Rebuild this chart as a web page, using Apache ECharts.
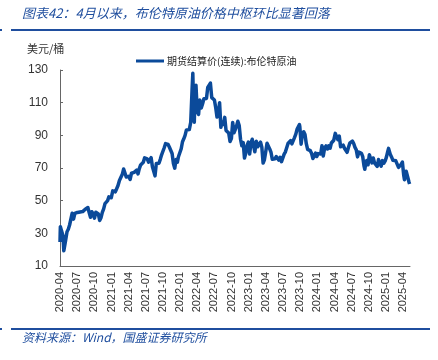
<!DOCTYPE html>
<html><head><meta charset="utf-8">
<script src="https://cdn.jsdelivr.net/npm/echarts@6/dist/echarts.min.js"></script>
<style>html,body{margin:0;padding:0;background:#fff}#c{width:438px;height:360px}</style>
</head><body><div id="c"></div>
<script>
var dates = [
"2020-04-01","2020-04-02","2020-04-03","2020-04-09","2020-04-14","2020-04-17","2020-04-21","2020-04-22","2020-04-24","2020-04-28","2020-04-30",
"2020-05-08","2020-05-15","2020-05-22","2020-05-29","2020-06-05","2020-06-12","2020-06-19","2020-06-26",
"2020-07-02","2020-07-10","2020-07-17","2020-07-24","2020-07-31","2020-08-07","2020-08-14","2020-08-21","2020-08-28",
"2020-09-04","2020-09-11","2020-09-18","2020-09-25","2020-10-02","2020-10-09","2020-10-16","2020-10-23","2020-10-30",
"2020-11-06","2020-11-13","2020-11-20","2020-11-27","2020-12-04","2020-12-11","2020-12-18","2020-12-24","2020-12-31",
"2021-01-08","2021-01-15","2021-01-22","2021-01-29","2021-02-05","2021-02-12","2021-02-19","2021-02-26",
"2021-03-05","2021-03-12","2021-03-19","2021-03-26","2021-04-01","2021-04-09","2021-04-16","2021-04-23","2021-04-30",
"2021-05-07","2021-05-14","2021-05-21","2021-05-28","2021-06-04","2021-06-11","2021-06-18","2021-06-25",
"2021-07-02","2021-07-09","2021-07-16","2021-07-23","2021-07-30","2021-08-06","2021-08-13","2021-08-20","2021-08-27",
"2021-09-03","2021-09-10","2021-09-17","2021-09-24","2021-10-01","2021-10-08","2021-10-15","2021-10-22","2021-10-29",
"2021-11-05","2021-11-12","2021-11-19","2021-11-26","2021-12-03","2021-12-10","2021-12-17","2021-12-23","2021-12-31",
"2022-01-07","2022-01-14","2022-01-21","2022-01-28","2022-02-04","2022-02-11","2022-02-18","2022-02-25",
"2022-03-04","2022-03-08","2022-03-11","2022-03-16","2022-03-18","2022-03-25","2022-04-01","2022-04-08","2022-04-14","2022-04-22","2022-04-29",
"2022-05-06","2022-05-13","2022-05-20","2022-05-27","2022-06-03","2022-06-10","2022-06-17","2022-06-24",
"2022-07-01","2022-07-08","2022-07-15","2022-07-22","2022-07-29","2022-08-05","2022-08-12","2022-08-19","2022-08-26",
"2022-09-02","2022-09-09","2022-09-16","2022-09-23","2022-09-30","2022-10-07","2022-10-14","2022-10-21","2022-10-28",
"2022-11-04","2022-11-11","2022-11-18","2022-11-25","2022-12-02","2022-12-09","2022-12-16","2022-12-23","2022-12-30",
"2023-01-06","2023-01-13","2023-01-20","2023-01-27","2023-02-03","2023-02-10","2023-02-17","2023-02-24",
"2023-03-03","2023-03-10","2023-03-17","2023-03-24","2023-03-31","2023-04-07","2023-04-14","2023-04-21","2023-04-28",
"2023-05-05","2023-05-12","2023-05-19","2023-05-26","2023-06-02","2023-06-09","2023-06-16","2023-06-23","2023-06-30",
"2023-07-07","2023-07-14","2023-07-21","2023-07-28","2023-08-04","2023-08-11","2023-08-18","2023-08-25",
"2023-09-01","2023-09-08","2023-09-15","2023-09-22","2023-09-27","2023-09-29","2023-10-06","2023-10-13","2023-10-20","2023-10-27",
"2023-11-03","2023-11-10","2023-11-17","2023-11-24","2023-12-01","2023-12-08","2023-12-15","2023-12-22","2023-12-29",
"2024-01-05","2024-01-12","2024-01-19","2024-01-26","2024-02-02","2024-02-09","2024-02-16","2024-02-23",
"2024-03-01","2024-03-08","2024-03-15","2024-03-22","2024-03-28","2024-04-05","2024-04-12","2024-04-19","2024-04-26",
"2024-05-03","2024-05-10","2024-05-17","2024-05-24","2024-05-31","2024-06-07","2024-06-14","2024-06-21","2024-06-28",
"2024-07-05","2024-07-12","2024-07-19","2024-07-26","2024-08-02","2024-08-09","2024-08-16","2024-08-23","2024-08-30",
"2024-09-06","2024-09-10","2024-09-13","2024-09-20","2024-09-27","2024-10-04","2024-10-11","2024-10-18","2024-10-25",
"2024-11-01","2024-11-08","2024-11-15","2024-11-22","2024-11-29","2024-12-06","2024-12-13","2024-12-20","2024-12-27","2024-12-31",
"2025-01-03","2025-01-10","2025-01-15","2025-01-17","2025-01-24","2025-01-31","2025-02-07","2025-02-14","2025-02-21","2025-02-28",
"2025-03-07","2025-03-14","2025-03-21","2025-03-28","2025-04-04","2025-04-08","2025-04-11","2025-04-17","2025-04-25","2025-05-02","2025-05-05"
];
var brent = [
24.7,29.9,34.1,31.5,29.6,28.1,19.3,20.4,21.4,20.5,25.3,
31.0,32.5,35.1,35.3,42.3,38.7,42.2,41.0,
42.8,43.2,43.1,43.3,43.3,44.4,44.8,44.4,45.8,
42.7,39.8,43.2,41.9,39.3,42.9,42.9,41.8,37.9,
39.5,42.8,45.0,48.2,49.3,50.0,52.3,51.3,51.8,
56.0,55.1,55.4,55.9,59.3,62.4,62.9,66.1,
69.4,69.2,64.5,64.6,64.9,63.0,66.8,66.1,67.3,
68.3,68.7,66.4,69.6,71.9,72.7,73.5,76.2,
76.2,75.6,73.6,74.1,76.3,70.7,70.6,65.2,72.7,
72.6,72.9,75.3,78.1,79.3,82.4,84.9,85.5,84.4,
82.7,82.2,78.9,72.7,69.9,75.2,73.5,76.9,77.8,
81.8,86.1,87.9,90.0,93.3,94.4,93.5,97.9,
118.1,128.0,112.7,98.0,107.9,120.7,104.4,102.8,111.7,106.7,109.3,
112.4,111.6,112.6,119.4,119.7,122.0,113.1,113.1,
111.6,107.0,101.2,103.2,110.0,94.9,98.2,96.7,101.0,
93.0,92.8,91.4,86.2,88.0,97.9,91.6,93.5,95.8,
98.6,96.0,87.6,83.6,85.6,76.1,79.0,83.9,85.9,
78.6,85.3,87.6,86.7,79.9,86.4,83.0,83.2,
85.8,82.8,73.0,75.0,79.8,85.1,86.3,81.7,79.5,
75.3,74.2,75.6,77.0,76.1,74.8,76.6,73.9,74.9,
78.5,79.9,81.1,85.0,86.2,86.8,84.8,84.5,
88.6,90.7,93.9,93.3,96.6,95.3,84.6,90.9,92.2,90.5,
84.9,81.4,80.6,80.6,78.9,75.8,76.6,79.1,77.0,
78.8,78.3,78.6,83.6,77.3,82.2,83.5,81.6,
83.6,82.1,85.3,85.4,87.0,91.2,90.5,87.3,89.5,
83.0,82.8,84.0,82.1,81.6,79.6,82.6,85.2,86.4,
86.5,85.0,82.6,81.1,76.8,79.7,79.7,79.0,76.9,
71.1,69.2,71.6,74.5,72.0,78.1,79.0,73.1,76.1,
73.1,73.9,71.0,75.2,72.9,71.1,74.5,72.9,74.2,74.6,
76.5,79.8,82.0,80.8,78.5,76.8,74.7,74.7,74.4,73.2,
70.4,70.6,72.2,73.6,65.6,62.8,64.8,68.0,66.9,61.3,60.2
];
var yTicks = [10, 30, 50, 70, 90, 110, 130];

function monthIndex(s) {
  var p = s.split('-'), y = +p[0], m = +p[1], d = +p[2];
  var dim = new Date(y, m, 0).getDate();
  return (y - 2020) * 12 + (m - 4) + (d - 1) / dim;
}
function monthLabel(v) {
  var t = Math.round(v) + 3, y = 2020 + Math.floor(t / 12), m = t % 12 + 1;
  return y + '-' + (m < 10 ? '0' + m : m);
}
var seriesData = dates.map(function (d, i) { return [monthIndex(d), brent[i]]; });

var blue = '#0B4A9A';
var chart = echarts.init(document.getElementById('c'), null, {renderer: 'canvas'});
chart.setOption({
  animation: false,
  backgroundColor: '#fff',
  grid: {left: 60, top: 70, right: 28, bottom: 94, containLabel: false},
  graphic: [
    {type: 'text', left: 22, top: 7, style: {text: '图表42：4月以来，布伦特原油价格中枢环比显著回落', fill: '#1F4E9E', font: 'italic 13px "Noto Sans CJK SC", sans-serif'}},
    {type: 'rect', shape: {x: 11, y: 29, width: 419, height: 2}, style: {fill: '#1F4E9E'}},
    {type: 'rect', shape: {x: 0, y: 29, width: 2, height: 2}, style: {fill: '#1F4E9E'}},
    {type: 'rect', shape: {x: 11, y: 328, width: 419, height: 2}, style: {fill: '#1F4E9E'}},
    {type: 'rect', shape: {x: 0, y: 328, width: 2, height: 2}, style: {fill: '#1F4E9E'}},
    {type: 'text', left: 22, top: 331, style: {text: '资料来源：Wind，国盛证券研究所', fill: '#1F4E9E', font: 'italic 12px "Noto Sans CJK SC", sans-serif'}},
    {type: 'text', left: 27, top: 43, style: {text: '美元/桶', fill: '#333', font: '11px "Noto Sans CJK SC", sans-serif'}}
  ],
  legend: {
    top: 51, left: 131, itemWidth: 28, itemHeight: 3, itemGap: 4,
    icon: 'rect',
    textStyle: {fontSize: 10, color: '#222', fontFamily: '"Noto Sans CJK SC", sans-serif', padding: [0, 0, 0, -2]},
    data: ['期货结算价(连续):布伦特原油']
  },
  xAxis: {
    type: 'value', min: 0, max: 61.2, interval: 3,
    axisLine: {show: true, lineStyle: {color: '#666', width: 1}},
    axisTick: {show: false},
    splitLine: {show: false},
    axisLabel: {rotate: 90, fontSize: 11, color: '#333', fontFamily: 'Liberation Sans, Arial, sans-serif', margin: 6,
      showMaxLabel: false, formatter: function (v) { return monthLabel(v); }}
  },
  yAxis: {
    type: 'value', min: yTicks[0], max: yTicks[yTicks.length - 1], interval: 20,
    axisLine: {show: true, lineStyle: {color: '#666', width: 1}},
    axisTick: {show: true, inside: true, length: 3, lineStyle: {color: '#666'}},
    splitLine: {show: false},
    axisLabel: {fontSize: 12, color: '#333', fontFamily: 'Liberation Sans, Arial, sans-serif', margin: 12}
  },
  series: [{
    name: '期货结算价(连续):布伦特原油',
    type: 'line', data: seriesData, showSymbol: false, symbol: 'none',
    lineStyle: {color: blue, width: 3.5, join: 'round'}, itemStyle: {color: blue}
  }]
});
</script></body></html>
